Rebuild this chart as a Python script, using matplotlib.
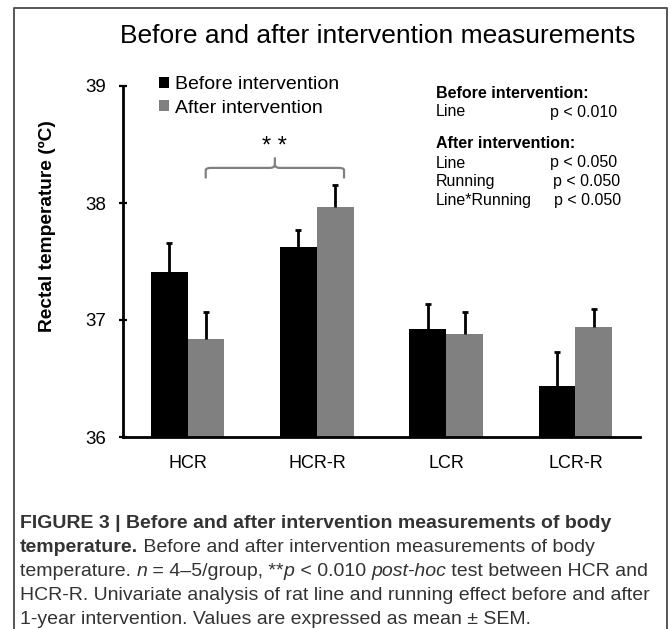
import matplotlib

matplotlib.use("Agg")
import matplotlib.pyplot as plt
import numpy as np
from matplotlib.lines import Line2D
from matplotlib.patches import Patch
from matplotlib.path import Path
from matplotlib.patches import PathPatch

plt.rcParams["font.family"] = ["Liberation Sans", "DejaVu Sans"]

# Rectal temperature per group (mean and upper SEM)
groups = ["HCR", "HCR-R", "LCR", "LCR-R"]
before_mean = [37.41, 37.62, 36.92, 36.44]
before_sem = [0.25, 0.15, 0.22, 0.29]
after_mean = [36.84, 37.97, 36.88, 36.94]
after_sem = [0.23, 0.18, 0.19, 0.15]
series_labels = ["Before intervention", "After intervention"]
y_ticks = [36, 37, 38, 39]

BLACK = "#000000"
GREY = "#808080"
W, H = 670, 629


def fx(px):
    return px / W


def fy(py):
    return 1 - py / H


fig = plt.figure(figsize=(6.7, 6.29), dpi=100)
ax = fig.add_axes([fx(123), fy(437), fx(640) - fx(123), fy(86) - fy(437)])

x = np.arange(len(groups))
bar_w = 0.285
ax.bar(x - bar_w / 2, before_mean, bar_w, color=BLACK, zorder=2)
ax.bar(x + bar_w / 2, after_mean, bar_w, color=GREY, zorder=2)
for offset, mean, sem in [(-bar_w / 2, before_mean, before_sem), (bar_w / 2, after_mean, after_sem)]:
    # upper SEM only: hide the cap sitting on the bar top
    _, caps, _ = ax.errorbar(x + offset, mean, yerr=[np.zeros(len(sem)), sem], fmt="none",
                             ecolor=BLACK, elinewidth=2, capsize=2.5, capthick=2, zorder=3)
    caps[0].set_visible(False)

ax.set_xlim(-0.5, 3.5)
ax.set_ylim(36, 39)
ax.set_yticks(y_ticks)
ax.set_yticklabels([str(t) for t in y_ticks], fontsize=13.5)
ax.set_xticks(x)
ax.set_xticklabels(groups, fontsize=13)
ax.tick_params(axis="x", length=0, pad=13)
ax.tick_params(axis="y", direction="inout", length=6, width=1.6, pad=9)
for side in ["top", "right"]:
    ax.spines[side].set_visible(False)
for side in ["left", "bottom"]:
    ax.spines[side].set_linewidth(2)

# significance bracket between HCR and HCR-R
x0, x1, xm = 0.14, 1.21, 0.675
y_end, y_mid, y_tip = 38.21, 38.30, 38.39
r = 0.04
verts = [(x0, y_end), (x0, y_mid - 0.02), (x0, y_mid), (x0 + r, y_mid),
         (xm - r, y_mid), (xm, y_mid), (xm, y_mid + 0.03), (xm, y_tip)]
codes = [Path.MOVETO, Path.LINETO, Path.CURVE3, Path.CURVE3,
         Path.LINETO, Path.CURVE3, Path.CURVE3, Path.LINETO]
verts2 = [(x1, y_end), (x1, y_mid - 0.02), (x1, y_mid), (x1 - r, y_mid),
          (xm + r, y_mid), (xm, y_mid), (xm, y_mid + 0.03)]
codes2 = [Path.MOVETO, Path.LINETO, Path.CURVE3, Path.CURVE3,
          Path.LINETO, Path.CURVE3, Path.CURVE3]
for v, c in [(verts, codes), (verts2, codes2)]:
    ax.add_patch(PathPatch(Path(v, c), fill=False, edgecolor=GREY, linewidth=1.6,
                           clip_on=False))
ax.text(xm, 38.48, "* *", ha="center", va="center", fontsize=17)

# legend
handles = [Patch(facecolor=BLACK), Patch(facecolor=GREY)]
fig.legend(handles, series_labels, loc="upper left", bbox_to_anchor=(fx(159), fy(76)),
           frameon=False, fontsize=14, handlelength=0.5, handleheight=0.5,
           handletextpad=0.3, labelspacing=0.35, borderaxespad=0, borderpad=0)

# statistics box
stat_rows = [
    ("Before intervention:", None, 93, True),
    ("Line", "p < 0.010", 112, False),
    ("After intervention:", None, 143, True),
    ("Line", "p < 0.050", 163, False),
    ("Running", "p < 0.050", 182, False),
    ("Line*Running", "p < 0.050", 201, False),
]
p_x = {"Line": 550, "Running": 553, "Line*Running": 554}
for name, pval, py, bold in stat_rows:
    fig.text(fx(436), fy(py), name, fontsize=11.5, va="center",
             fontweight="bold" if bold else "normal")
    if pval:
        fig.text(fx(p_x[name]), fy(py), pval, fontsize=11.5, va="center")

fig.suptitle("Before and after intervention measurements", x=fx(378), y=fy(36),
             va="center", fontsize=19)
fig.text(fx(47), fy(226), "Rectal temperature (ºC)", rotation=90, ha="center",
         va="center", fontsize=13.8, fontweight="bold")

# caption, drawn piece by piece so styles can change inside a line
cap_color = "#333333"
caption = [
    [("FIGURE 3 | Before and after intervention measurements of body", "bold", "normal")],
    [("temperature.", "bold", "normal"),
     (" Before and after intervention measurements of body", "normal", "normal")],
    [("temperature. ", "normal", "normal"), ("n", "normal", "italic"),
     (" = 4–5/group, **", "normal", "normal"), ("p", "normal", "italic"),
     (" < 0.010 ", "normal", "normal"), ("post-hoc", "normal", "italic"),
     (" test between HCR and", "normal", "normal")],
    [("HCR-R. Univariate analysis of rat line and running effect before and after",
      "normal", "normal")],
    [("1-year intervention. Values are expressed as mean ± SEM.", "normal", "normal")],
]
caption_y = [523, 547, 571, 595, 619]
renderer = fig.canvas.get_renderer()
for pieces, py in zip(caption, caption_y):
    cur = 20
    for text, weight, style in pieces:
        t = fig.text(fx(cur), fy(py), text, fontsize=14, va="center",
                     fontweight=weight, fontstyle=style, color=cap_color)
        cur += t.get_window_extent(renderer).width

# frame lines
frame_color = "#555555"
fig.add_artist(Line2D([fx(14), fx(14), fx(667), fx(667)], [0, fy(8), fy(8), 0],
                      color=frame_color, linewidth=1.4))

fig.savefig("out.png", dpi=100)
